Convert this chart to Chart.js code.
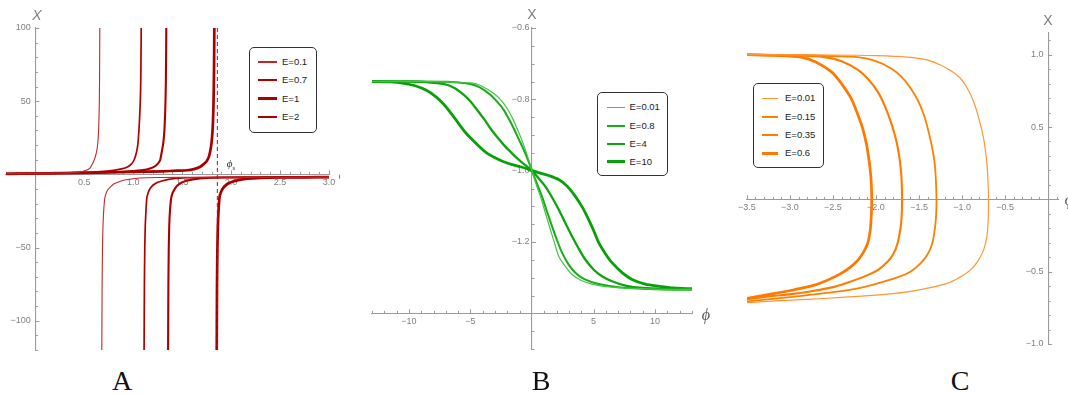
<!DOCTYPE html>
<html><head><meta charset="utf-8">
<script src="https://cdn.jsdelivr.net/npm/chart.js@4.4.1/dist/chart.umd.min.js"></script>
<style>
body{margin:0;width:1068px;height:394px;overflow:hidden;background:#fff;position:relative;font-family:'Liberation Sans',Arial,sans-serif}
#pA{position:absolute;left:0;top:0;width:340px;height:394px;overflow:hidden}
canvas{position:absolute}
.lg{position:absolute;border:1.3px solid #333;border-radius:5px;background:#fff;box-sizing:border-box}
.sw{position:absolute}
.t{position:absolute;white-space:nowrap;line-height:1;transform:translate(-50%,-50%)}
.tl{position:absolute;white-space:nowrap;line-height:1;transform:translate(0,-50%)}
.ax{font-family:'Liberation Sans',Arial,sans-serif;font-size:14px;color:#7d7d7d}
.ph{font-family:'Liberation Serif','DejaVu Serif',serif;font-style:italic;font-size:16px;color:#555}
.let{font-family:'Liberation Serif','Times New Roman',serif;font-size:28px;color:#111}
.lgt{font-size:9.5px;color:#222;font-family:'Liberation Sans',Arial,sans-serif}
</style></head><body>
<div id="pA"><canvas id="cA" width="343" height="342" style="left:-4px;top:18px"></canvas></div>
<canvas id="cB" width="340" height="341" style="left:362px;top:18px"></canvas>
<canvas id="cC" width="333" height="331" style="left:735px;top:23px"></canvas>
<script>
// ---------------- Panel A data ----------------
const aLabels = ['E=0.1', 'E=0.7', 'E=1', 'E=2'];
const aPhiS = 1.86;
const aUpPhi01 = [-0.3, 0, 0.2, 0.35, 0.45, 0.52, 0.56, 0.585, 0.605, 0.62, 0.632, 0.641, 0.647, 0.651, 0.654, 0.656, 0.658, 0.66];
const aUpX01   = [0.4, 0.6, 0.9, 1.2, 1.7, 2.8, 4.5, 7.5, 10.5, 14, 18, 24, 32, 41, 52, 68, 95, 140];
const aLoPhi01 = [0.677, 0.679, 0.682, 0.686, 0.691, 0.698, 0.709, 0.725, 0.74, 0.76, 0.785, 0.815, 0.862, 0.925, 1.065, 1.275, 1.675, 2.275, 3.0];
const aLoX01   = [-190, -120, -75, -50, -35, -25, -16.5, -12.5, -10.5, -9, -7.4, -6.1, -4.9, -3.7, -2.5, -2.15, -2.0, -1.95, -1.9];
const aUpPhi07 = [-0.3, 0, 0.3, 0.55, 0.7, 0.8, 0.88, 0.94, 0.98, 1.01, 1.033, 1.048, 1.058, 1.066, 1.072, 1.077, 1.081, 1.085];
const aUpX07   = [0.4, 0.6, 0.9, 1.4, 2.0, 2.7, 3.7, 5.0, 7.0, 10, 15, 21, 30, 40, 50, 65, 95, 150];
const aLoPhi07 = [1.109, 1.111, 1.114, 1.118, 1.123, 1.13, 1.139, 1.155, 1.17, 1.19, 1.215, 1.245, 1.3, 1.36, 1.5, 1.7, 2.1, 2.6, 3.0];
const aLoX07   = [-190, -120, -75, -50, -35, -25, -16, -12, -10, -8.2, -6.8, -5.6, -4.4, -3.4, -2.5, -2.15, -2.0, -1.95, -1.9];
const aUpPhi1  = [-0.3, 0, 0.4, 0.8, 1.0, 1.1, 1.17, 1.22, 1.25, 1.275, 1.293, 1.306, 1.315, 1.322, 1.328, 1.333, 1.337, 1.341];
const aUpX1    = [0.4, 0.6, 1.0, 1.6, 2.2, 2.9, 4.0, 5.5, 7.2, 9.8, 16, 21, 27, 35, 46, 62, 92, 150];
const aLoPhi1  = [1.354, 1.356, 1.359, 1.363, 1.368, 1.375, 1.386, 1.4, 1.415, 1.44, 1.465, 1.495, 1.545, 1.61, 1.75, 1.95, 2.3, 2.7, 3.0];
const aLoX1    = [-190, -120, -75, -50, -35, -25, -17, -13, -11, -8.4, -6.9, -5.6, -4.4, -3.4, -2.5, -2.15, -2.0, -1.95, -1.9];
const aUpPhi2  = [-0.3, 0, 0.5, 1.0, 1.3, 1.45, 1.55, 1.62, 1.68, 1.72, 1.75, 1.775, 1.795, 1.806, 1.814, 1.82, 1.826, 1.832];
const aUpX2    = [0.4, 0.6, 1.0, 1.6, 2.1, 2.5, 2.8, 3.6, 5.0, 7.0, 9.0, 12.5, 19, 26, 35, 48, 75, 140];
const aLoPhi2  = [1.851, 1.853, 1.856, 1.86, 1.865, 1.872, 1.883, 1.9, 1.92, 1.95, 1.98, 2.02, 2.087, 2.16, 2.3, 2.5, 2.75, 3.0];
const aLoX2    = [-190, -120, -75, -50, -35, -24, -15, -11.5, -9.2, -7.2, -5.9, -4.9, -3.8, -3.0, -2.4, -2.1, -2.0, -1.9];
const aXTicks = [0.5, 1.0, 1.5, 2.0, 2.5, 3.0];
const aXTickLabels = ['0.5', '1.0', '1.5', '2.0', '2.5', '3.0'];
const aYTicks = [-100, -50, 50, 100];
const aYTickLabels = ['\u2212100', '\u221250', '50', '100'];

// ---------------- Panel B data ----------------
const bLabels = ['E=0.01', 'E=0.8', 'E=4', 'E=10'];
const bPhi001 = [-13, -9, -7, -6, -5, -4.47, -3.8, -3.12, -2.5, -2.03, -1.6, -1.22, -0.85, -0.54, -0.25, 0, 0.3, 0.68, 1.1, 1.49, 1.85, 2.17, 2.7, 3.25, 4.0, 4.88, 6, 7.5, 9, 11, 13];
const bX001   = [-0.750, -0.750, -0.751, -0.752, -0.754, -0.757, -0.768, -0.783, -0.803, -0.825, -0.852, -0.881, -0.912, -0.941, -0.972, -1.0, -1.035, -1.072, -1.12, -1.165, -1.205, -1.240, -1.268, -1.291, -1.308, -1.318, -1.325, -1.329, -1.331, -1.333, -1.333];
const bPhi08  = [-13, -9, -7, -6, -5.02, -4.2, -3.39, -2.8, -2.31, -1.9, -1.49, -1.1, -0.68, -0.33, 0, 0.4, 0.81, 1.2, 1.63, 2.0, 2.44, 2.95, 3.52, 4.3, 5.42, 7, 9, 11, 13];
const bX08    = [-0.750, -0.750, -0.751, -0.753, -0.757, -0.767, -0.787, -0.808, -0.829, -0.854, -0.881, -0.910, -0.941, -0.970, -1.0, -1.036, -1.072, -1.113, -1.156, -1.192, -1.230, -1.262, -1.286, -1.305, -1.318, -1.327, -1.331, -1.333, -1.333];
const bPhi4   = [-13, -10, -8.5, -7.19, -6.3, -5.56, -5.0, -4.47, -3.9, -3.39, -2.85, -2.31, -1.75, -1.22, -0.6, 0, 0.5, 1.08, 1.6, 2.17, 2.7, 3.25, 3.8, 4.33, 5.0, 5.69, 6.5, 7.59, 9, 11, 13];
const bX4     = [-0.750, -0.750, -0.752, -0.757, -0.768, -0.787, -0.806, -0.829, -0.855, -0.881, -0.905, -0.927, -0.947, -0.965, -0.983, -1.0, -1.02, -1.044, -1.073, -1.109, -1.146, -1.184, -1.219, -1.249, -1.277, -1.296, -1.310, -1.322, -1.329, -1.332, -1.333];
const bPhi10  = [-13, -11.5, -10.4, -9.5, -8.54, -7.8, -7.19, -6.6, -6.0, -5.4, -4.8, -4.2, -3.66, -3.0, -2.31, -1.6, -0.95, -0.45, 0, 0.6, 1.3, 2.17, 2.9, 3.52, 4.1, 4.6, 5.0, 5.42, 5.95, 6.5, 7.3, 8.13, 9.2, 10.3, 11.5, 13];
const bX10    = [-0.750, -0.751, -0.755, -0.762, -0.775, -0.793, -0.813, -0.838, -0.866, -0.893, -0.915, -0.935, -0.951, -0.964, -0.975, -0.983, -0.989, -0.994, -1.0, -1.006, -1.013, -1.025, -1.045, -1.072, -1.103, -1.137, -1.167, -1.202, -1.232, -1.258, -1.285, -1.305, -1.318, -1.324, -1.329, -1.331];
const bXTicks = [-10, -5, 5, 10];
const bXTickLabels = ['\u221210', '\u22125', '5', '10'];
const bYTicks = [-1.2, -1.0, -0.8, -0.6];
const bYTickLabels = ['\u22121.2', '\u22121.0', '\u22120.8', '\u22120.6'];

// ---------------- Panel C data ----------------
const cLabels = ['E=0.01', 'E=0.15', 'E=0.35', 'E=0.6'];
const cPhi001 = [-3.5, -2.5, -2.0, -1.635, -1.4, -1.25, -1.12, -1.02, -0.94, -0.866, -0.8, -0.75, -0.72, -0.704, -0.696, -0.693, -0.694, -0.698, -0.712, -0.75, -0.82, -0.904, -1.03, -1.173, -1.4, -1.635, -2.0, -2.405, -2.8, -3.175, -3.5];
const cX001   = [1.0, 0.998, 0.993, 0.983, 0.963, 0.929, 0.885, 0.837, 0.77, 0.676, 0.55, 0.422, 0.3, 0.191, 0.09, 0.0, -0.09, -0.166, -0.26, -0.351, -0.43, -0.489, -0.54, -0.581, -0.614, -0.639, -0.662, -0.678, -0.692, -0.702, -0.715];
const cPhi015 = [-3.5, -2.8, -2.5, -2.21, -2.0, -1.828, -1.7, -1.597, -1.51, -1.443, -1.39, -1.346, -1.318, -1.305, -1.299, -1.297, -1.298, -1.302, -1.315, -1.346, -1.4, -1.482, -1.6, -1.75, -2.0, -2.21, -2.5, -2.79, -3.15, -3.5];
const cX015   = [1.0, 0.997, 0.99, 0.983, 0.955, 0.906, 0.845, 0.768, 0.68, 0.583, 0.47, 0.353, 0.25, 0.145, 0.06, 0, -0.06, -0.12, -0.2, -0.305, -0.38, -0.443, -0.5, -0.54, -0.585, -0.616, -0.642, -0.662, -0.685, -0.705];
const cPhi035 = [-3.5, -3.0, -2.598, -2.4, -2.21, -2.09, -1.98, -1.9, -1.828, -1.77, -1.732, -1.71, -1.7, -1.697, -1.698, -1.702, -1.715, -1.75, -1.8, -1.866, -1.97, -2.097, -2.3, -2.483, -2.75, -2.983, -3.25, -3.5];
const cX035   = [1.0, 0.995, 0.983, 0.955, 0.895, 0.83, 0.745, 0.65, 0.537, 0.42, 0.307, 0.2, 0.1, 0, -0.06, -0.12, -0.2, -0.305, -0.38, -0.432, -0.485, -0.524, -0.57, -0.605, -0.635, -0.655, -0.672, -0.69];
const cPhi06  = [-3.5, -3.2, -2.87, -2.7, -2.52, -2.4, -2.29, -2.22, -2.155, -2.11, -2.078, -2.06, -2.052, -2.05, -2.051, -2.055, -2.068, -2.097, -2.15, -2.21, -2.3, -2.405, -2.55, -2.714, -2.95, -3.175, -3.5];
const cX06    = [1.0, 0.995, 0.983, 0.95, 0.883, 0.8, 0.699, 0.6, 0.491, 0.38, 0.26, 0.16, 0.08, 0, -0.06, -0.12, -0.22, -0.305, -0.37, -0.42, -0.47, -0.512, -0.555, -0.593, -0.625, -0.65, -0.685];
const cXTicks = [-3.5, -3.0, -2.5, -2.0, -1.5, -1.0, -0.5];
const cXTickLabels = ['\u22123.5', '\u22123.0', '\u22122.5', '\u22122.0', '\u22121.5', '\u22121.0', '\u22120.5'];
const cYTicks = [-1.0, -0.5, 0.5, 1.0];
const cYTickLabels = ['\u22121.0', '\u22120.5', '0.5', '1.0'];

// ---------------- helpers ----------------
const zip = (xs, ys) => xs.map((x, i) => ({x: x, y: ys[i]}));
const AXC = '#9b9b9b', TKC = '#7f7f7f', FAM = "'Liberation Sans', Arial, sans-serif";

const mmaTicks = {
  id: 'mmaTicks',
  beforeDatasetsDraw(chart, args, o) {
    const xs = chart.scales.x, ys = chart.scales.y, ctx = chart.ctx;
    const yAx = ys.getPixelForValue(o.xAxisAt), xAx = xs.getPixelForValue(o.yAxisAt);
    ctx.save(); ctx.strokeStyle = AXC; ctx.lineWidth = 1; ctx.beginPath();
    const t = o.tx;
    for (let i = t[0]; i <= t[1]; i++) {
      if (i === t[4]) continue;
      const px = Math.round(xs.getPixelForValue(i * t[2])) + 0.5;
      const L = (i % t[3] === 0) ? 4 : 2.5;
      ctx.moveTo(px, yAx); ctx.lineTo(px, yAx - L);
    }
    const u = o.ty;
    for (let i = u[0]; i <= u[1]; i++) {
      if (i === u[4]) continue;
      const py = Math.round(ys.getPixelForValue(i * u[2])) + 0.5;
      const L = (i % u[3] === 0) ? 4 : 2.5;
      ctx.moveTo(xAx, py); ctx.lineTo(xAx + L, py);
    }
    ctx.stroke(); ctx.restore();
  }
};

function xScale(min, max, vals, labels, at) {
  return {type: 'linear', min: min, max: max, position: {y: at},
    grid: {display: false, drawTicks: false}, border: {display: true, color: AXC, width: 1.1},
    ticks: {color: TKC, font: {size: 9, family: FAM}, padding: 3, autoSkip: false, maxRotation: 0,
      callback: (v, i) => labels[i]},
    afterBuildTicks: s => { s.ticks = vals.map(v => ({value: v})); }};
}
function yScale(min, max, vals, labels, at, gap) {
  return {type: 'linear', min: min, max: max, position: {x: at},
    grid: {display: false, drawTicks: false}, border: {display: true, color: AXC, width: 1.1},
    ticks: {color: TKC, font: {size: 9, family: FAM}, padding: 0, autoSkip: false,
      callback: (v, i) => labels[i] + gap},
    afterBuildTicks: s => { s.ticks = vals.map(v => ({value: v})); }};
}
function ds(data, color, width, tension, dash) {
  return {data: data, showLine: true, borderColor: color, backgroundColor: color, borderWidth: width,
    pointRadius: 0, pointHoverRadius: 0, fill: false, tension: tension, borderDash: dash || [], spanGaps: false};
}
function chart(id, datasets, sx, sy, tickCfg) {
  return new Chart(document.getElementById(id), {
    type: 'scatter',
    data: {datasets: datasets},
    options: {responsive: false, animation: false, events: [],
      layout: {padding: 10},
      plugins: {legend: {display: false}, tooltip: {enabled: false}, mmaTicks: tickCfg},
      scales: {x: sx, y: sy}},
    plugins: [mmaTicks]
  });
}

// ---------------- Panel A ----------------
const aColors = ['rgb(192,40,40)', 'rgb(176,0,0)', 'rgb(172,0,0)', 'rgb(168,0,0)'];
const aWidths = [1.1, 1.7, 2.1, 2.7];
const aUp = [[aUpPhi01, aUpX01], [aUpPhi07, aUpX07], [aUpPhi1, aUpX1], [aUpPhi2, aUpX2]];
const aLo = [[aLoPhi01, aLoX01], [aLoPhi07, aLoX07], [aLoPhi1, aLoX1], [aLoPhi2, aLoX2]];
const aSets = aLabels.map((l, i) => {
  const up = zip(aUp[i][0], aUp[i][1]), lo = zip(aLo[i][0], aLo[i][1]);
  return ds(up.concat([{x: (up[up.length - 1].x + lo[0].x) / 2, y: null}], lo), aColors[i], aWidths[i], 0.2);
});
aSets.unshift(ds([{x: aPhiS, y: 100}, {x: aPhiS, y: -120}], 'rgba(150,30,30,0.85)', 1.2, 0, [4, 3]));
chart('cA', aSets, xScale(-0.3, 3.0, aXTicks, aXTickLabels, 0), yScale(-120, 100, aYTicks, aYTickLabels, 0, '\u2002'),
  {xAxisAt: 0, yAxisAt: 0, tx: [-3, 30, 0.1, 5, 0], ty: [-12, 10, 10, 5, 0]});

// ---------------- Panel B ----------------
const bColors = ['rgb(70,195,70)', 'rgb(25,172,25)', 'rgb(12,165,12)', 'rgb(8,160,8)'];
const bWidths = [1.2, 2.0, 2.3, 2.8];
const bData = [[bPhi001, bX001], [bPhi08, bX08], [bPhi4, bX4], [bPhi10, bX10]];
const bSets = bLabels.map((l, i) => ds(zip(bData[i][0], bData[i][1]), bColors[i], bWidths[i], 0.3));
chart('cB', bSets, xScale(-13, 13, bXTicks, bXTickLabels, -1.4), yScale(-1.5, -0.6, bYTicks, bYTickLabels, 0, ' '),
  {xAxisAt: -1.4, yAxisAt: 0, tx: [-13, 13, 1, 5, 0], ty: [-30, -12, 0.05, 4, -28]});

// ---------------- Panel C ----------------
const cColors = ['rgb(255,150,55)', 'rgb(255,128,0)', 'rgb(255,124,0)', 'rgb(255,120,0)'];
const cWidths = [1.2, 1.8, 2.1, 2.7];
const cData = [[cPhi001, cX001], [cPhi015, cX015], [cPhi035, cX035], [cPhi06, cX06]];
const cSets = cLabels.map((l, i) => ds(zip(cData[i][0], cData[i][1]), cColors[i], cWidths[i], 0.3));
chart('cC', cSets, xScale(-3.5, 0.115, cXTicks, cXTickLabels, 0), yScale(-1.0, 1.15, cYTicks, cYTickLabels, 0, '\u2002'),
  {xAxisAt: 0, yAxisAt: 0, tx: [-35, 1, 0.1, 5, 0], ty: [-10, 11, 0.1, 5, 0]});

// ---------------- legends & text ----------------
function legend(parent, box, rows, lineL, lineR, textL, labels, colors, widths) {
  const b = document.createElement('div'); b.className = 'lg';
  Object.assign(b.style, {left: box[0] + 'px', top: box[1] + 'px', width: box[2] + 'px', height: box[3] + 'px'});
  parent.appendChild(b);
  labels.forEach((lab, i) => {
    const s = document.createElement('div'); s.className = 'sw';
    Object.assign(s.style, {left: lineL + 'px', top: (rows[i] - widths[i] / 2) + 'px', width: (lineR - lineL) + 'px', height: widths[i] + 'px', background: colors[i]});
    parent.appendChild(s);
    const t = document.createElement('div'); t.className = 'tl lgt'; t.textContent = lab;
    Object.assign(t.style, {left: textL + 'px', top: rows[i] + 'px'});
    parent.appendChild(t);
  });
}
function text(parent, html, cls, x, y) {
  const t = document.createElement('div'); t.className = 't ' + cls; t.innerHTML = html;
  Object.assign(t.style, {left: x + 'px', top: y + 'px'}); parent.appendChild(t);
  return t;
}
const pA = document.getElementById('pA'), body = document.body;
legend(pA, [249, 47, 68, 86], [62, 80, 98.5, 117], 258, 277, 282, aLabels, aColors, aWidths);
legend(body, [597, 92, 71, 84], [107.3, 126, 144, 161.7], 607, 625, 629.5, bLabels, bColors, bWidths);
legend(body, [753, 83, 70.5, 84.5], [98.3, 116.7, 135, 153.3], 762, 778.3, 785, cLabels, cColors, cWidths);

text(pA, '<i>X</i>', 'ax', 37, 15);
text(pA, '\u03d5', 'ph', 343, 175);
const phiS = text(pA, '<i>\u03d5</i><sub style="font-size:7px;font-style:normal">s</sub>', 'ph', 231, 165);
phiS.style.fontSize = '11px'; phiS.style.color = '#333';
text(body, 'X', 'ax', 532, 14);
text(body, '\u03d5', 'ph', 706, 315);
text(body, 'X', 'ax', 1048, 19.5);
text(body, '\u03d5', 'ph', 1069, 200);
text(body, 'A', 'let', 122, 381);
text(body, 'B', 'let', 541, 381);
text(body, 'C', 'let', 960, 381);
</script>
</body></html>
